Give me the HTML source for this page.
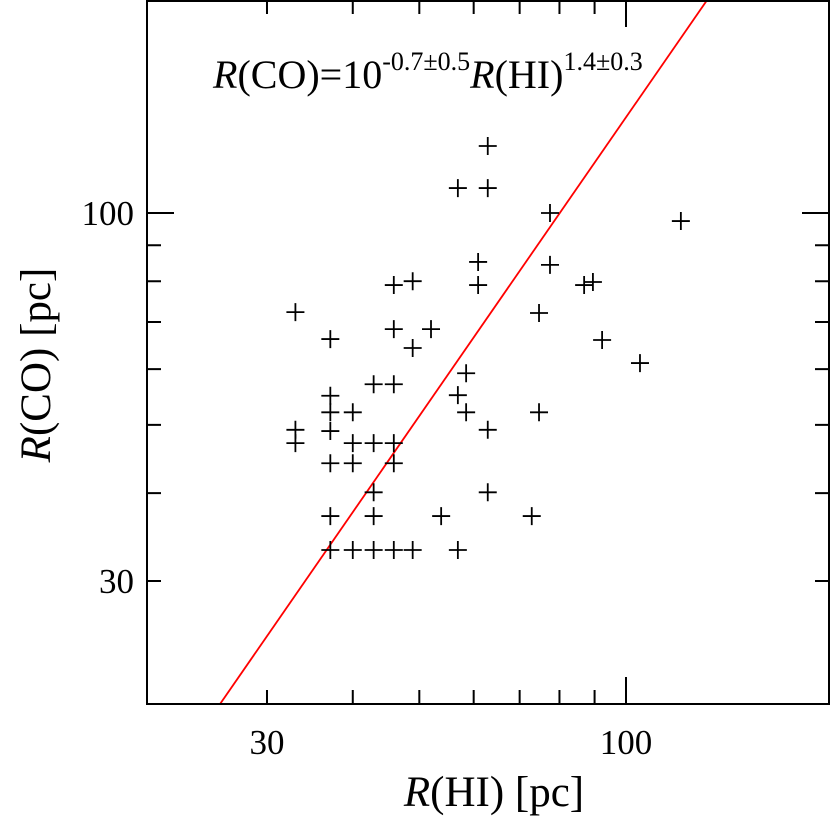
<!DOCTYPE html>
<html><head><meta charset="utf-8"><style>
html,body{margin:0;padding:0;background:#fff;overflow:hidden;width:831px;height:820px;}
svg{display:block;font-family:"Liberation Serif",serif;}
</style></head><body>
<svg id="chart" width="831" height="820" viewBox="0 0 831 820" xmlns="http://www.w3.org/2000/svg">
<g id="marks"></g>
<rect x="147" y="1" width="682" height="703" fill="none" stroke="#000" stroke-width="2"/>
<g id="ticks"></g>
<text x="213" y="88" font-size="40"><tspan font-style="italic">R</tspan>(CO)=10<tspan font-size="26" dy="-18">-0.7±0.5</tspan><tspan font-style="italic" dy="18">R</tspan>(HI)<tspan font-size="26" dy="-18">1.4±0.3</tspan></text>
<text x="494" y="806" font-size="43" text-anchor="middle"><tspan font-style="italic">R</tspan>(HI) [pc]</text>
<text transform="translate(50,365) rotate(-90)" font-size="43" text-anchor="middle"><tspan font-style="italic">R</tspan>(CO) [pc]</text>
</svg>
<script>
const xVals=[33,33,33,37.1,37.1,37.1,37.1,37.1,37.1,37.1,40,40,40,40,42.9,42.9,42.9,42.9,42.9,45.9,45.9,45.9,45.9,45.9,45.9,48.9,48.9,48.9,52,53.8,56.9,56.9,56.9,58.5,58.5,60.9,60.9,62.9,62.9,62.9,62.9,72.9,74.7,74.7,77.5,77.5,86.9,89.5,92.3,104.8,120.2];
const yVals=[72.3,49.2,47.1,66.2,55,52.1,49,44.1,37.1,33.2,52.1,47.1,44.1,33.2,57.1,47.1,40.1,37.1,33.2,79,68.4,57.1,47.1,44.1,33.2,80,64.3,33.2,68.4,37.1,108.5,55.1,33.2,59.2,52.1,85.2,79,124.5,108.5,49.2,40.1,37.1,72.1,52.1,100,84.4,79,79.8,66,61.2,97.4];
const fitIntercept=-0.684, fitSlope=1.41;
const xTicks=[30,40,50,60,70,80,90,100];
const yTicks=[30,40,50,60,70,80,90,100];
const majorLabels=[30,100];
const X0=147,X1=829,Y0=704,Y1=0;
function sx(v){return 626+(Math.log10(v)-2)*686.6;}
function sy(v){return 213-(Math.log10(v)-2)*703.8;}
const NS="http://www.w3.org/2000/svg";
const marks=document.getElementById('marks'),ticks=document.getElementById('ticks');
function mk(t,a,p){const e=document.createElementNS(NS,t);for(const k in a)e.setAttribute(k,a[k]);p.appendChild(e);return e;}
const cp=mk('clipPath',{id:'cp'},marks);mk('rect',{x:X0,y:Y1,width:X1-X0,height:Y0-Y1},cp);
const xa=15,xb=250;
const fl=mk('line',{x1:sx(xa),y1:sy(Math.pow(10,fitIntercept)*Math.pow(xa,fitSlope)),x2:sx(xb),y2:sy(Math.pow(10,fitIntercept)*Math.pow(xb,fitSlope)),stroke:'#f00','stroke-width':1.8,'clip-path':'url(#cp)'},marks);


for(let i=0;i<xVals.length;i++){
 const cx=sx(xVals[i]),cy=sy(yVals[i]);
 const p=mk('path',{d:`M${cx-9},${cy}H${cx+9}M${cx},${cy-9}V${cy+9}`,stroke:'#000','stroke-width':1.8,fill:'none'},marks);
 
 
}
xTicks.forEach(v=>{const L=v===100?27:14;const x=sx(v);
 const t=mk('path',{d:`M${x},${Y0}v${-L}M${x},${Y1}v${L}`,stroke:'#000','stroke-width':2},ticks);
 
 
 if(majorLabels.includes(v)){const tx=mk('text',{x:x,y:754,'font-size':35,'text-anchor':'middle'},ticks);tx.textContent=v;
 
 }
});
yTicks.forEach(v=>{const L=v===100?27:14;const y=sy(v);
 const t=mk('path',{d:`M${X0},${y}h${L}M${X1},${y}h${-L}`,stroke:'#000','stroke-width':2},ticks);
 
 
 if(majorLabels.includes(v)){const tx=mk('text',{x:134,y:y+12,'font-size':35,'text-anchor':'end'},ticks);tx.textContent=v;
 
 }
});
</script>
</body></html>
